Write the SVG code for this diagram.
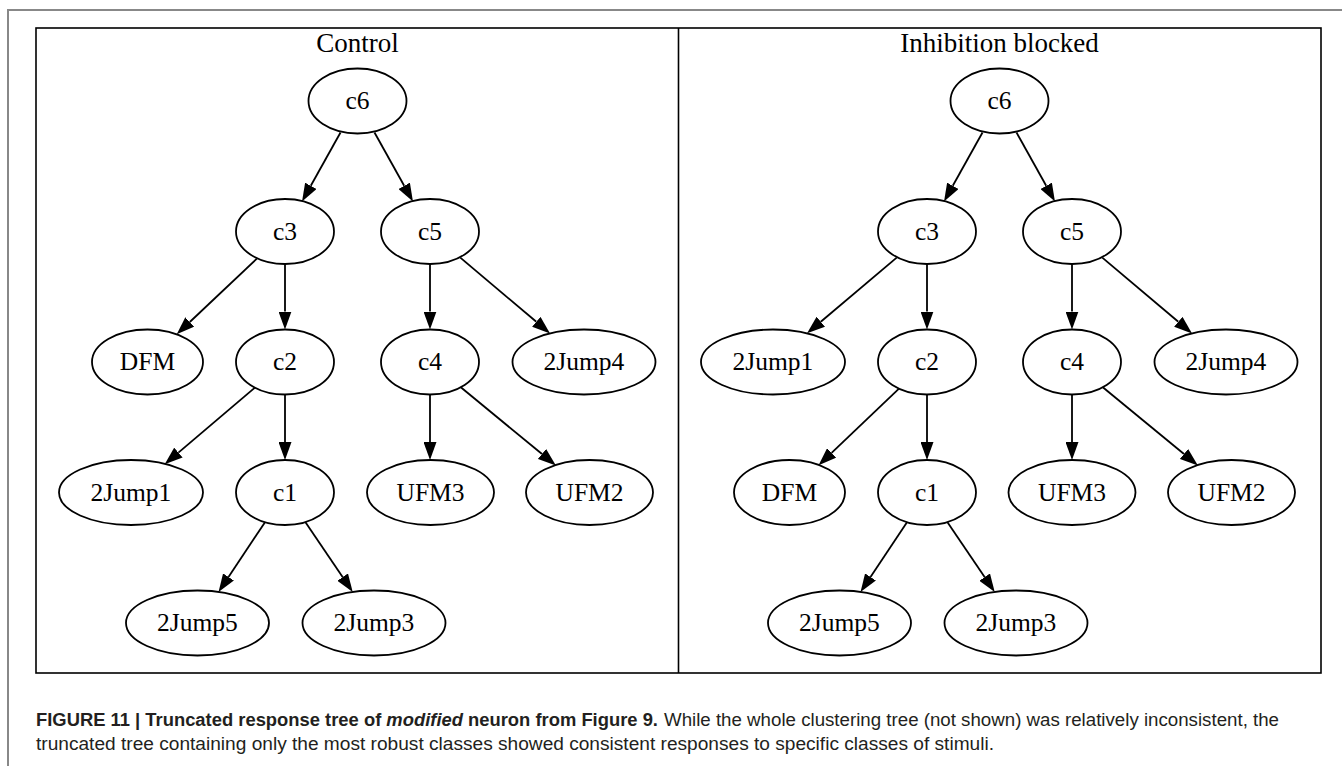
<svg xmlns="http://www.w3.org/2000/svg" width="1342" height="766" viewBox="0 0 1342 766">
<style>
  .n ellipse { fill: #fff; stroke: #000; stroke-width: 1.8; }
  .n text { font-family: "Liberation Serif", "Times New Roman", serif; font-size: 25.5px; text-anchor: middle; fill: #000; }
  .title { font-family: "Liberation Serif", "Times New Roman", serif; font-size: 27px; text-anchor: middle; fill: #000; }
  .e path { fill: none; stroke: #000; stroke-width: 1.8; marker-end: url(#ah); }
  .cap { font-family: "Liberation Sans", Arial, sans-serif; font-size: 17.5px; fill: #231f20; }
</style>
<defs>
  <marker id="ah" markerWidth="18" markerHeight="13" refX="0" refY="6.5" orient="auto" markerUnits="userSpaceOnUse">
    <path d="M0,0 L18,6.5 L0,13 z" fill="#000"/>
  </marker>
</defs>
<rect width="1342" height="766" fill="#fff"/>
<path d="M8,766 V10 H1342" fill="none" stroke="#888" stroke-width="2"/>
<rect x="36" y="28" width="1285" height="645" fill="none" stroke="#000" stroke-width="1.6"/>
<line x1="678.5" y1="28" x2="678.5" y2="673" stroke="#000" stroke-width="1.6"/>

<!-- Control panel -->
<g id="panel-control">
  <text class="title" x="357.5" y="52">Control</text>
  <g id="edges-control" class="e">
    <path d="M340.5,132.5 L310.8,185.8"/>
    <path d="M374.5,132.5 L404.2,185.8"/>
    <path d="M256.9,258.6 L189.8,322.0"/>
    <path d="M285,264 L285,311.5"/>
    <path d="M430,264 L430,311.5"/>
    <path d="M460.3,257.6 L536.3,321.8"/>
    <path d="M254.9,387.6 L178.4,452.6"/>
    <path d="M285,394.5 L285,442"/>
    <path d="M430,394.5 L430,442"/>
    <path d="M460.8,387.3 L542.0,454.0"/>
    <path d="M265.0,522.2 L228.5,577.0"/>
    <path d="M305.3,522.1 L342.6,577.1"/>
  </g>
  <g id="ctl-c6" class="n"><ellipse cx="357.5" cy="101" rx="49" ry="32.5"/><text x="357.5" y="109">c6</text></g>
  <g id="ctl-c3" class="n"><ellipse cx="285" cy="231.5" rx="49" ry="32.5"/><text x="285" y="239.5">c3</text></g>
  <g id="ctl-c5" class="n"><ellipse cx="430" cy="231.5" rx="49" ry="32.5"/><text x="430" y="239.5">c5</text></g>
  <g id="ctl-DFM" class="n"><ellipse cx="147.5" cy="362" rx="55.5" ry="32.5"/><text x="147.5" y="370">DFM</text></g>
  <g id="ctl-c2" class="n"><ellipse cx="285" cy="362" rx="49" ry="32.5"/><text x="285" y="370">c2</text></g>
  <g id="ctl-c4" class="n"><ellipse cx="430" cy="362" rx="49" ry="32.5"/><text x="430" y="370">c4</text></g>
  <g id="ctl-2Jump4" class="n"><ellipse cx="584" cy="362" rx="71.5" ry="32.5"/><text x="584" y="370">2Jump4</text></g>
  <g id="ctl-2Jump1" class="n"><ellipse cx="131" cy="492.5" rx="72" ry="32.5"/><text x="131" y="500.5">2Jump1</text></g>
  <g id="ctl-c1" class="n"><ellipse cx="285" cy="492.5" rx="49" ry="32.5"/><text x="285" y="500.5">c1</text></g>
  <g id="ctl-UFM3" class="n"><ellipse cx="430.5" cy="492.5" rx="63.5" ry="32.5"/><text x="430.5" y="500.5">UFM3</text></g>
  <g id="ctl-UFM2" class="n"><ellipse cx="589.5" cy="492.5" rx="63.5" ry="32.5"/><text x="589.5" y="500.5">UFM2</text></g>
  <g id="ctl-2Jump5" class="n"><ellipse cx="197.5" cy="623" rx="71.5" ry="32.5"/><text x="197.5" y="631">2Jump5</text></g>
  <g id="ctl-2Jump3" class="n"><ellipse cx="374" cy="623" rx="71.5" ry="32.5"/><text x="374" y="631">2Jump3</text></g>
</g>

<!-- Inhibition blocked panel -->
<g id="panel-inhibition" transform="translate(642,0)">
  <text class="title" x="357.5" y="52">Inhibition blocked</text>
  <g id="edges-inhibition" class="e">
    <path d="M340.5,132.5 L310.8,185.8"/>
    <path d="M374.5,132.5 L404.2,185.8"/>
    <path d="M254.7,257.6 L178.8,321.7"/>
    <path d="M285,264 L285,311.5"/>
    <path d="M430,264 L430,311.5"/>
    <path d="M460.3,257.6 L536.3,321.8"/>
    <path d="M257.0,388.7 L189.6,452.9"/>
    <path d="M285,394.5 L285,442"/>
    <path d="M430,394.5 L430,442"/>
    <path d="M460.8,387.3 L542.0,454.0"/>
    <path d="M265.0,522.2 L228.5,577.0"/>
    <path d="M305.3,522.1 L342.6,577.1"/>
  </g>
  <g id="inh-c6" class="n"><ellipse cx="357.5" cy="101" rx="49" ry="32.5"/><text x="357.5" y="109">c6</text></g>
  <g id="inh-c3" class="n"><ellipse cx="285" cy="231.5" rx="49" ry="32.5"/><text x="285" y="239.5">c3</text></g>
  <g id="inh-c5" class="n"><ellipse cx="430" cy="231.5" rx="49" ry="32.5"/><text x="430" y="239.5">c5</text></g>
  <g id="inh-2Jump1" class="n"><ellipse cx="131" cy="362" rx="72" ry="32.5"/><text x="131" y="370">2Jump1</text></g>
  <g id="inh-c2" class="n"><ellipse cx="285" cy="362" rx="49" ry="32.5"/><text x="285" y="370">c2</text></g>
  <g id="inh-c4" class="n"><ellipse cx="430" cy="362" rx="49" ry="32.5"/><text x="430" y="370">c4</text></g>
  <g id="inh-2Jump4" class="n"><ellipse cx="584" cy="362" rx="71.5" ry="32.5"/><text x="584" y="370">2Jump4</text></g>
  <g id="inh-DFM" class="n"><ellipse cx="147.5" cy="492.5" rx="55.5" ry="32.5"/><text x="147.5" y="500.5">DFM</text></g>
  <g id="inh-c1" class="n"><ellipse cx="285" cy="492.5" rx="49" ry="32.5"/><text x="285" y="500.5">c1</text></g>
  <g id="inh-UFM3" class="n"><ellipse cx="430" cy="492.5" rx="63.5" ry="32.5"/><text x="430" y="500.5">UFM3</text></g>
  <g id="inh-UFM2" class="n"><ellipse cx="589.5" cy="492.5" rx="63.5" ry="32.5"/><text x="589.5" y="500.5">UFM2</text></g>
  <g id="inh-2Jump5" class="n"><ellipse cx="197.5" cy="623" rx="71.5" ry="32.5"/><text x="197.5" y="631">2Jump5</text></g>
  <g id="inh-2Jump3" class="n"><ellipse cx="374" cy="623" rx="71.5" ry="32.5"/><text x="374" y="631">2Jump3</text></g>
</g>

<!-- Caption -->
<g id="caption">
  <text class="cap" x="36" y="726" textLength="622" lengthAdjust="spacingAndGlyphs" font-weight="bold">FIGURE 11 | Truncated response tree of <tspan font-style="italic">modified</tspan> neuron from Figure 9.</text>
  <text class="cap" x="664" y="726" textLength="615" lengthAdjust="spacingAndGlyphs">While the whole clustering tree (not shown) was relatively inconsistent, the</text>
  <text class="cap" x="36" y="750" textLength="958" lengthAdjust="spacingAndGlyphs">truncated tree containing only the most robust classes showed consistent responses to specific classes of stimuli.</text>
</g>
</svg>
